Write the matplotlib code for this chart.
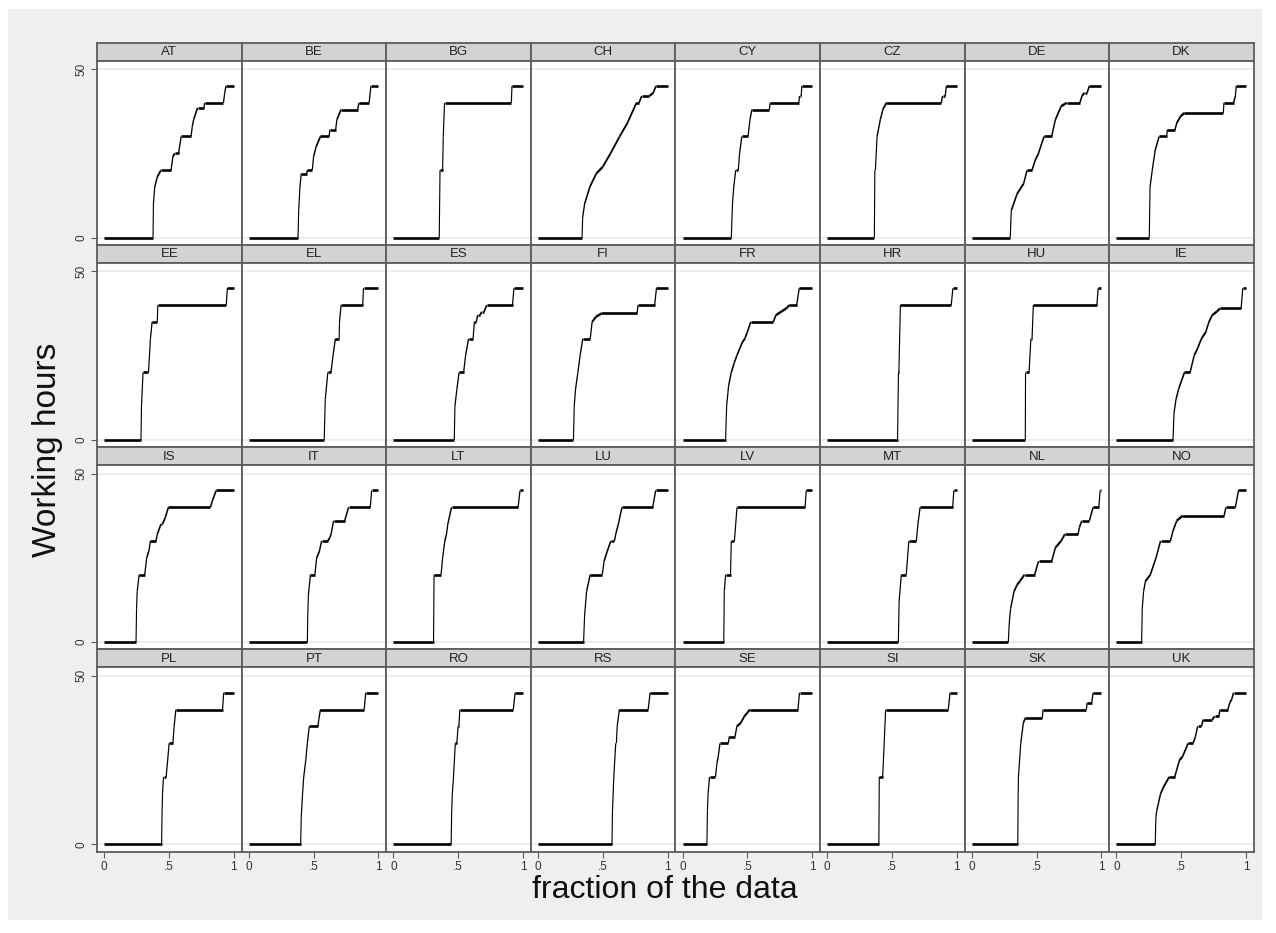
import numpy as np
import matplotlib
matplotlib.use("Agg")
import matplotlib.pyplot as plt
from matplotlib.collections import LineCollection
from matplotlib.patches import Rectangle

plt.rcParams['font.family'] = ['Liberation Sans', 'DejaVu Sans']

#______________________________________________________________________________#
# quantile curves: fraction of the data -> working hours

countries = ["AT", "BE", "BG", "CH", "CY", "CZ", "DE", "DK",
             "EE", "EL", "ES", "FI", "FR", "HR", "HU", "IE",
             "IS", "IT", "LT", "LU", "LV", "MT", "NL", "NO",
             "PL", "PT", "RO", "RS", "SE", "SI", "SK", "UK"]

at_frac = [0, .377, .38, .39, .41, .438, .516, .53, .545, .574, .594, .67, .68, .69, .72, .77, .775, .92, .93, .94, 1]
at_hours = [0, 0, 10, 15, 18, 20, 20, 24, 25, 25, 30, 30, 33, 35, 38.5, 38.5, 40, 40, 43, 45, 45]

be_frac = [0, .38, .385, .395, .405, .447, .452, .49, .50, .52, .553, .62, .625, .67, .68, .712, .84, .85, .928, .942, 1]
be_hours = [0, 0, 8, 15, 19, 19, 20, 20, 24, 27, 30, 30, 32, 32, 35, 38, 38, 40, 40, 45, 45]

bg_frac = [0, .354, .36, .38, .385, .395, .91, .915, 1]
bg_hours = [0, 0, 20, 20, 30, 40, 40, 45, 45]

ch_frac = [0, .34, .345, .36, .40, .45, .50, .56, .63, .69, .76, .78, .80, .86, .89, .91, 1]
ch_hours = [0, 0, 6, 10, 15, 19, 21, 25, 30, 34, 40, 40, 42, 42, 43, 45, 45]

cy_frac = [0, .376, .385, .395, .41, .43, .44, .457, .505, .52, .535, .67, .675, .896, .902, .915, .92, 1]
cy_hours = [0, 0, 10, 15, 20, 20, 25, 30, 30, 35, 38, 38, 40, 40, 42, 42, 45, 45]

cz_frac = [0, .364, .368, .372, .385, .41, .43, .457, .88, .89, .91, .92, 1]
cz_hours = [0, 0, 20, 20, 30, 35, 38, 40, 40, 42, 42, 45, 45]

de_frac = [0, .297, .305, .35, .40, .427, .465, .49, .515, .54, .558, .616, .645, .69, .733, .834, .85, .87, .89, .907, 1]
de_hours = [0, 0, 8, 13, 16, 20, 20, 23, 25, 28, 30, 30, 35, 39, 40, 40, 42, 43, 43, 45, 45]

dk_frac = [0, .254, .26, .277, .30, .33, .388, .393, .452, .466, .496, .525, .825, .83, .904, .918, .925, 1]
dk_hours = [0, 0, 15, 20, 26, 30, 30, 32, 32, 34, 36, 37, 37, 40, 40, 42, 45, 45]

ee_frac = [0, .284, .288, .30, .342, .357, .37, .41, .414, .942, .95, 1]
ee_hours = [0, 0, 10, 20, 20, 30, 35, 35, 40, 40, 45, 45]

el_frac = [0, .582, .59, .61, .634, .65, .668, .697, .70, .712, .879, .885, 1]
el_hours = [0, 0, 12, 20, 20, 25, 30, 30, 35, 40, 40, 45, 45]

es_frac = [0, .47, .475, .49, .507, .542, .557, .58, .615, .625, .64, .65, .67, .68, .70, .72, .919, .93, 1]
es_hours = [0, 0, 10, 15, 20, 20, 25, 30, 30, 35, 35, 37, 37, 38, 38, 40, 40, 45, 45]

fi_frac = [0, .274, .28, .29, .308, .325, .346, .403, .418, .447, .49, .764, .772, .90, .914, 1]
fi_hours = [0, 0, 10, 15, 20, 25, 30, 30, 35, 36.5, 37.5, 37.5, 40, 40, 45, 45]

fr_frac = [0, .332, .34, .355, .376, .40, .419, .44, .462, .48, .50, .526, .70, .72, .76, .80, .824, .88, .90, 1]
fr_hours = [0, 0, 10, 16, 20, 23, 25, 27, 29, 30, 32, 35, 35, 37, 38, 39, 40, 40, 45, 45]

hr_frac = [0, .543, .55, .553, .565, .957, .962, .97, 1]
hr_hours = [0, 0, 20, 20, 40, 40, 42, 45, 45]

hu_frac = [0, .413, .415, .442, .456, .465, .475, .965, .975, 1]
hu_hours = [0, 0, 20, 20, 30, 30, 40, 40, 45, 45]

ie_frac = [0, .437, .445, .46, .48, .525, .569, .60, .625, .656, .69, .714, .74, .773, .80, .962, .975, 1]
ie_hours = [0, 0, 8, 12, 15, 20, 20, 25, 27, 30, 32, 35, 37, 38, 39, 39, 45, 45]

is_frac = [0, .246, .25, .255, .27, .313, .328, .345, .357, .40, .41, .438, .45, .472, .496, .82, .835, .864, 1]
is_hours = [0, 0, 10, 15, 20, 20, 25, 27, 30, 30, 32, 35, 35, 37, 40, 40, 42, 45, 45]

it_frac = [0, .452, .455, .46, .476, .51, .524, .545, .562, .61, .625, .635, .654, .74, .77, .937, .948, 1]
it_hours = [0, 0, 8, 14, 20, 20, 25, 27, 30, 30, 31, 32, 36, 36, 40, 40, 45, 45]

lt_frac = [0, .31, .314, .368, .38, .397, .41, .42, .449, .962, .977, 1]
lt_hours = [0, 0, 20, 20, 25, 30, 32, 35, 40, 40, 45, 45]

lu_frac = [0, .352, .36, .375, .403, .496, .51, .535, .562, .59, .60, .62, .648, .885, .908, 1]
lu_hours = [0, 0, 8, 15, 20, 20, 24, 27, 30, 30, 32, 35, 40, 40, 45, 45]

lv_frac = [0, .318, .322, .332, .37, .376, .40, .41, .42, .945, .954, 1]
lv_hours = [0, 0, 15, 20, 20, 30, 30, 35, 40, 40, 45, 45]

mt_frac = [0, .549, .555, .572, .61, .62, .63, .688, .70, .717, .968, .977, 1]
mt_hours = [0, 0, 12, 20, 20, 25, 30, 30, 35, 40, 40, 45, 45]

nl_frac = [0, .282, .29, .30, .326, .35, .37, .407, .485, .50, .515, .616, .645, .689, .718, .82, .83, .849, .907, .936, .98, .99, 1]
nl_hours = [0, 0, 6, 10, 15, 17, 18, 20, 20, 22, 24, 24, 28, 30, 32, 32, 34, 36, 36, 40, 40, 45, 45]

no_frac = [0, .195, .20, .21, .224, .262, .306, .341, .417, .437, .466, .51, .831, .845, .918, .942, 1]
no_hours = [0, 0, 10, 15, 18, 20, 25, 30, 30, 33, 36, 37.5, 37.5, 40, 40, 45, 45]

pl_frac = [0, .443, .447, .45, .458, .478, .49, .501, .53, .54, .553, .913, .922, 1]
pl_hours = [0, 0, 10, 15, 20, 20, 25, 30, 30, 35, 40, 40, 45, 45]

pt_frac = [0, .40, .405, .415, .424, .44, .452, .467, .533, .54, .553, .89, .902, 1]
pt_hours = [0, 0, 8, 15, 20, 25, 30, 35, 35, 37, 40, 40, 45, 45]

ro_frac = [0, .446, .45, .455, .464, .478, .49, .499, .505, .513, .925, .939, 1]
ro_hours = [0, 0, 10, 15, 20, 30, 30, 35, 35, 40, 40, 45, 45]

rs_frac = [0, .571, .575, .585, .60, .605, .611, .628, .85, .865, 1]
rs_hours = [0, 0, 10, 20, 30, 30, 35, 40, 40, 45, 45]

se_frac = [0, .188, .192, .197, .208, .254, .265, .275, .289, .353, .361, .405, .419, .448, .477, .52, .89, .902, 1]
se_hours = [0, 0, 10, 15, 20, 20, 24, 26, 30, 30, 32, 32, 35, 36, 38, 40, 40, 45, 45]

si_frac = [0, .399, .402, .428, .44, .451, .934, .948, 1]
si_hours = [0, 0, 20, 20, 30, 40, 40, 45, 45]

sk_frac = [0, .355, .358, .36, .378, .398, .413, .544, .55, .884, .89, .925, .936, 1]
sk_hours = [0, 0, 15, 20, 30, 36, 37.5, 37.5, 40, 40, 42, 42, 45, 45]

uk_frac = [0, .30, .305, .312, .341, .364, .408, .45, .465, .487, .51, .554, .592, .61, .627, .656, .67, .74, .758, .79, .80, .86, .875, .889, .904, 1]
uk_hours = [0, 0, 8, 10, 15, 17, 20, 20, 22, 25, 26, 30, 30, 32, 35, 35, 37, 37, 38, 38, 40, 40, 42, 43, 45, 45]

curves = [(at_frac, at_hours), (be_frac, be_hours), (bg_frac, bg_hours), (ch_frac, ch_hours),
          (cy_frac, cy_hours), (cz_frac, cz_hours), (de_frac, de_hours), (dk_frac, dk_hours),
          (ee_frac, ee_hours), (el_frac, el_hours), (es_frac, es_hours), (fi_frac, fi_hours),
          (fr_frac, fr_hours), (hr_frac, hr_hours), (hu_frac, hu_hours), (ie_frac, ie_hours),
          (is_frac, is_hours), (it_frac, it_hours), (lt_frac, lt_hours), (lu_frac, lu_hours),
          (lv_frac, lv_hours), (mt_frac, mt_hours), (nl_frac, nl_hours), (no_frac, no_hours),
          (pl_frac, pl_hours), (pt_frac, pt_hours), (ro_frac, ro_hours), (rs_frac, rs_hours),
          (se_frac, se_hours), (si_frac, si_hours), (sk_frac, sk_hours), (uk_frac, uk_hours)]

x_ticks = [0, 0.5, 1]
x_ticklabels = ["0", ".5", "1"]
y_ticks = [0, 50]
y_ticklabels = ["0", "50"]

#______________________________________________________________________________#
# layout (pixels of the 1276x933 picture)

W, H = 1276, 933
left0, col_w = 97, 144.6
top0, row_h, strip_h = 42.7, 202.25, 18
xlim = (-0.055, 1.06)
ylim = (-2.2, 52.5)
frame_col = "#5c5c5c"

fig = plt.figure(figsize=(W / 100, H / 100), dpi=100)
fig.patch.set_facecolor("white")
fig.add_artist(Rectangle((8 / W, 1 - 920 / H), (1262 - 8) / W, (920 - 9) / H,
                         transform=fig.transFigure, facecolor="#efefef",
                         edgecolor="none", zorder=0))

# pixels per data unit, used to make flat steps thick and risers thin
sx = col_w / (xlim[1] - xlim[0])
sy = (row_h - strip_h) / (ylim[1] - ylim[0])


def draw_panel(i, name, frac, hours):
    r, c = divmod(i, 8)
    x_px = left0 + c * col_w
    top = top0 + r * row_h

    # strip with the country name
    sax = fig.add_axes([x_px / W, 1 - (top + strip_h) / H, col_w / W, strip_h / H])
    sax.set_facecolor("#d3d3d3")
    sax.set_xticks([])
    sax.set_yticks([])
    for sp in sax.spines.values():
        sp.set_color(frame_col)
        sp.set_linewidth(1.3)
    sax.text(0.5, 0.48, name, ha="center", va="center", fontsize=9.5, color="#222222",
             transform=sax.transAxes)

    ax = fig.add_axes([x_px / W, 1 - (top + row_h) / H, col_w / W, (row_h - strip_h) / H])
    ax.set_facecolor("white")
    ax.set_xlim(*xlim)
    ax.set_ylim(*ylim)
    for sp in ax.spines.values():
        sp.set_color(frame_col)
        sp.set_linewidth(1.3)
    for yv in y_ticks:
        ax.axhline(yv, color="#ececec", lw=1.4, zorder=0)

    fx = np.array(frac, dtype=float)
    hy = np.array(hours, dtype=float)
    pts = np.column_stack([fx, hy])
    segs = np.stack([pts[:-1], pts[1:]], axis=1)
    dx = np.diff(fx) * sx
    dy = np.diff(hy) * sy
    ln = np.hypot(dx, dy)
    ln[ln == 0] = 1
    widths = 0.8 + 1.1 * (dx / ln)
    ax.add_collection(LineCollection(segs, linewidths=widths, colors="black",
                                     capstyle="butt", zorder=3))

    ax.tick_params(direction="out", length=4, width=0.8, color=frame_col,
                   labelsize=8.5, labelcolor="#333333", pad=3)
    if r == 3:
        ax.set_xticks(x_ticks)
        ax.set_xticklabels(x_ticklabels)
    else:
        ax.set_xticks([])
    if c == 0:
        ax.set_yticks(y_ticks)
        ax.set_yticklabels(y_ticklabels, rotation=90, va="center")
    else:
        ax.set_yticks([])


for i, name in enumerate(countries):
    draw_panel(i, name, curves[i][0], curves[i][1])

fig.text(48 / W, 1 - 450 / H, "Working hours", rotation=90, ha="center", va="center",
         fontsize=24, color="#111111")
fig.text(665 / W, 1 - 890 / H, "fraction of the data", ha="center", va="center",
         fontsize=23, color="#111111")

fig.savefig("out.png", dpi=100, facecolor=fig.get_facecolor())
